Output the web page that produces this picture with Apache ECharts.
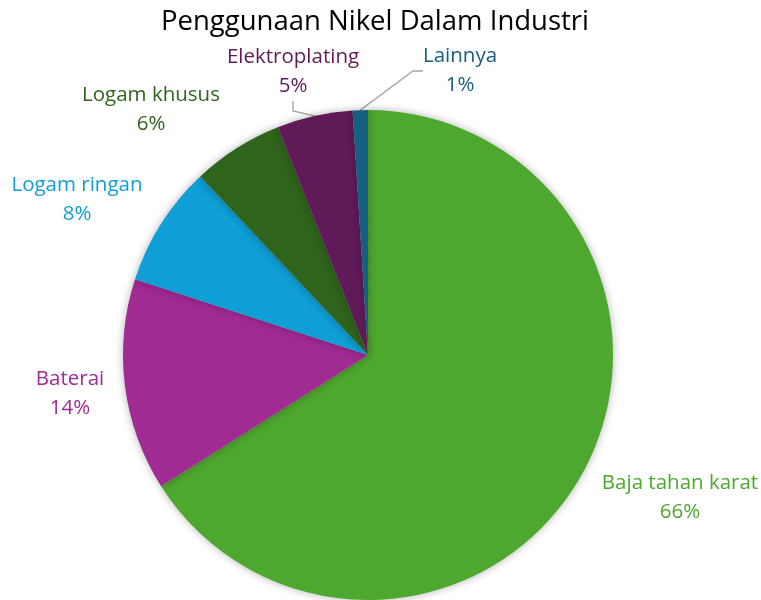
<!DOCTYPE html>
<html><head><meta charset="utf-8">
<script src="https://cdn.jsdelivr.net/npm/echarts@6/dist/echarts.min.js"></script>
<style>html,body{margin:0;padding:0;background:#fff}#c{width:761px;height:600px}</style>
</head><body><div id="c"></div>
<script>
const categories = ['Baja tahan karat','Baterai','Logam ringan','Logam khusus','Elektroplating','Lainnya'];
const values = [66,14,8,6,5,1];
const colors = ['#4EA72E','#A02B93','#0F9ED5','#2F641C','#601A58','#156082'];
// label placement (style only)
const labelPos = [[680,498],[70,394],[77,200],[151,110],[293,72],[460,71]];
const showLine = [false,false,false,false,true,true];

const chart = echarts.init(document.getElementById('c'));
chart.setOption({
  animation:false,
  title:{text:'Penggunaan Nikel Dalam Industri',left:156,top:3,
    textStyle:{fontFamily:'Open Sans',fontWeight:'normal',fontSize:27.5,color:'#000'}},
  series:[{
    type:'pie',
    center:[368,355],radius:245,startAngle:90,clockwise:true,
    data:categories.map((n,i)=>({name:n,value:values[i],
      itemStyle:{color:colors[i]},
      label:{color:colors[i]},
      labelLine:{show:showLine[i],lineStyle:{color:'#a6a6a6',width:1.3}}})),
    itemStyle:{shadowBlur:8,shadowColor:'rgba(0,0,0,0.3)'},
    label:{show:true,position:'outside',formatter:'{b}\n{d}%',overflow:'none',
      fontFamily:'Open Sans',fontSize:20.5,lineHeight:29,align:'center'},
    labelLine:{length:10,length2:10},
    labelLayout:function(p){
      const pos=labelPos[p.dataIndex];
      return {x:pos[0],y:pos[1],align:'center',verticalAlign:'middle'};
    }
  }]
});
</script></body></html>
